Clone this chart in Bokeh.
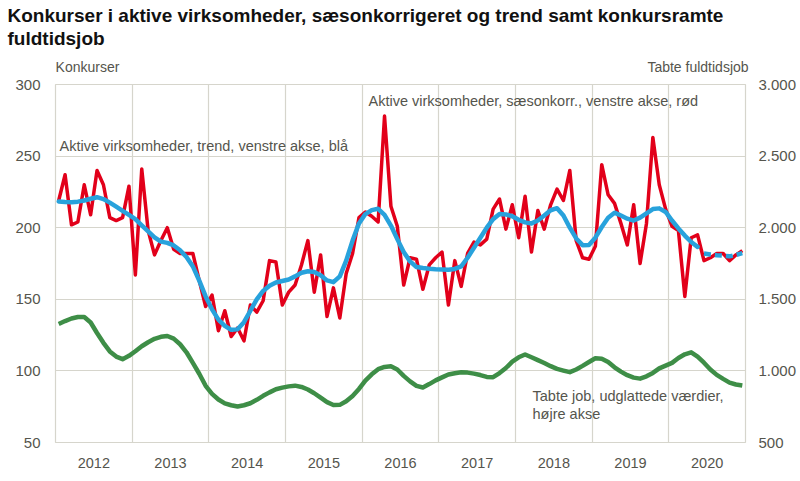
from bokeh.plotting import figure
from bokeh.models import Range1d, LinearAxis, FixedTicker, Label, Title
from bokeh.embed import file_html
from bokeh.resources import INLINE

years = [2012, 2013, 2014, 2015, 2016, 2017, 2018, 2019, 2020]

# Konkurser, sæsonkorrigeret (monthly, Jan 2012 - Dec 2020)
red = [219, 237, 202, 204, 230, 209, 240, 230, 207, 205, 207, 229,
       167, 241, 198, 181, 191, 200, 185, 182, 182, 182, 163, 145,
       153, 128, 142, 124, 130, 121, 146, 141, 149, 177, 176, 146,
       155, 160, 174, 191, 155, 181, 138, 158, 137, 168, 182, 207,
       211, 208, 204, 278, 215, 201, 160, 179, 178, 157, 174, 179,
       183, 146, 177, 159, 182, 190, 188, 192, 213, 220, 199, 216,
       193, 222, 183, 212, 199, 216, 227, 219, 240, 191, 179, 178,
       187, 244, 223, 217, 203, 188, 216, 175, 203, 263, 230, 213,
       201, 198, 152, 193, 195, 177, 179, 182, 182, 177, 181, 184]

# Konkurser, trend
trend = [218.3, 218.0, 217.8, 218.2, 219.0, 220.2, 221.3, 220.0, 217.5, 214.7, 211.8, 209.0,
         206.0, 201.7, 197.5, 193.3, 190.3, 189.4, 187.6, 184.2, 179.5, 173.0, 163.0, 152.0,
         143.0, 135.8, 131.5, 128.7, 129.0, 134.0, 142.0, 150.0, 155.8, 159.5, 161.7, 162.8,
         163.8, 166.0, 168.5, 169.6, 169.0, 166.8, 163.2, 162.0, 166.0, 177.0, 191.0, 203.0,
         209.5, 212.3, 213.2, 209.0, 201.5, 192.0, 183.0, 176.5, 172.6, 171.8, 171.3, 171.0,
         170.8, 170.6, 171.2, 173.0, 179.0, 186.0, 193.0, 200.0, 206.0, 209.5, 209.3, 208.0,
         205.5, 203.7, 203.0, 205.0, 208.5, 212.2, 213.6, 208.5, 200.0, 192.5, 187.8, 188.0,
         193.0, 200.5, 207.0, 210.5, 208.5, 206.3, 205.0, 207.0, 210.0, 213.0, 213.5, 211.0,
         205.0, 199.5, 194.5, 190.0, 186.6, 182.0, 181.3, 180.8, 180.5, 180.0, 181.0, 182.2]
n_trend_final = 101  # the last months of the trend are provisional (dashed)

# Tabte fuldtidsjob, udglattede værdier (right axis)
jobs = [1328, 1348, 1366, 1376, 1376, 1338, 1265, 1196, 1136, 1100, 1082, 1105,
        1137, 1172, 1200, 1224, 1238, 1244, 1225, 1186, 1130, 1056, 980, 896,
        840, 800, 773, 760, 751, 760, 774, 798, 826, 850, 872, 883,
        892, 897, 888, 870, 844, 813, 782, 762, 763, 788, 825, 874,
        932, 976, 1012, 1028, 1032, 1010, 965, 927, 895, 884, 908, 934,
        955, 975, 984, 990, 988, 981, 971, 958, 956, 985, 1020, 1065,
        1095, 1115, 1095, 1075, 1055, 1033, 1014, 1002, 991, 1010, 1035, 1062,
        1088, 1085, 1062, 1025, 995, 970, 953, 946, 962, 986, 1018, 1037,
        1056, 1090, 1116, 1130, 1100, 1057, 1010, 972, 944, 918, 905, 898]

left_ticks = [50, 100, 150, 200, 250, 300]
right_ticks = [500, 1000, 1500, 2000, 2500, 3000]
right_labels = ["500", "1.000", "1.500", "2.000", "2.500", "3.000"]

title_text = ("Konkurser i aktive virksomheder, sæsonkorrigeret og trend samt konkursramte\n"
              "fuldtidsjob")

x = [2012 + (i + 0.5) / 12 for i in range(len(red))]

FONT = "Liberation Sans"
TXT = "#55554d"
GRID = "#d6d5cc"
PX_PER_YEAR = 690 / 9.0
PX_PER_UNIT = 358 / 250.0

p = figure(width=800, height=476, output_backend="svg", toolbar_location=None, title=None,
           x_range=Range1d(2012, 2021), y_range=Range1d(50, 300),
           min_border_left=55, min_border_right=55, min_border_top=84, min_border_bottom=34)
p.extra_y_ranges = {"jobs": Range1d(500, 3000)}

p.outline_line_color = GRID
p.outline_line_width = 1.2
p.background_fill_color = "white"
p.border_fill_color = "white"

p.xgrid.ticker = FixedTicker(ticks=years + [2021])
p.ygrid.ticker = FixedTicker(ticks=left_ticks)
p.xgrid.grid_line_color = GRID
p.ygrid.grid_line_color = GRID
p.xgrid.grid_line_width = 1.2
p.ygrid.grid_line_width = 1.2

def style_axis(ax, size="14px"):
    ax.axis_line_color = None
    ax.major_tick_line_color = None
    ax.minor_tick_line_color = None
    ax.major_tick_out = 0
    ax.major_tick_in = 0
    ax.minor_tick_out = 0
    ax.major_label_text_font = FONT
    ax.major_label_text_font_size = size
    ax.major_label_text_color = TXT

xa = p.xaxis[0]
xa.ticker = FixedTicker(ticks=[y + 0.5 for y in years])
xa.major_label_overrides = {y + 0.5: str(y) for y in years}
style_axis(xa, "14.5px")
xa.major_label_standoff = 15

ya = p.yaxis[0]
ya.ticker = FixedTicker(ticks=left_ticks)
style_axis(ya, "15px")
ya.major_label_standoff = 15

ra = LinearAxis(y_range_name="jobs", ticker=FixedTicker(ticks=right_ticks),
                major_label_overrides={t: l for t, l in zip(right_ticks, right_labels)})
style_axis(ra, "15px")
ra.major_label_standoff = 13
p.add_layout(ra, "right")

# axis titles as a label row above the frame
k_pos = 2012 + 32 / PX_PER_YEAR
t_pos = 2012 + 642.5 / PX_PER_YEAR
ta = LinearAxis(ticker=FixedTicker(ticks=[k_pos, t_pos]),
                major_label_overrides={k_pos: "Konkurser", t_pos: "Tabte fuldtidsjob"})
style_axis(ta)
ta.major_label_standoff = 10
p.add_layout(ta, "above")

# spacing between the axis-title row and the chart title
gap = Title(text=" ", text_font=FONT, text_font_size="1px", standoff=3)
p.add_layout(gap, "above")

t1 = Title(text=title_text, align="left", offset=-48, text_font=FONT, text_font_size="19px",
           text_font_style="bold", text_color="#111111", text_line_height=1.14, standoff=0)
p.add_layout(t1, "above")

p.line(x, jobs, y_range_name="jobs", line_color="#3e8e47", line_width=4.5, line_join="round")
p.line(x, red, line_color="#e2001a", line_width=3.5, line_join="round")
p.line(x[:n_trend_final], trend[:n_trend_final], line_color="#28a2dc", line_width=4.5,
       line_join="round", line_cap="round")
p.line(x[n_trend_final:], trend[n_trend_final:], line_color="#28a2dc", line_width=4.5,
       line_dash="7 4")

def lab(px, py, text):
    # px, py: offsets in pixels from the frame's top-left corner
    p.add_layout(Label(x=2012 + px / PX_PER_YEAR, y=300 - py / PX_PER_UNIT, text=text,
                       text_font=FONT, text_font_size="14.5px", text_align="left",
                       text_baseline="middle", text_color=TXT))

lab(4, 61, "Aktive virksomheder, trend, venstre akse, blå")
lab(313, 16, "Aktive virksomheder, sæsonkorr., venstre akse, rød")
lab(477, 311, "Tabte job, udglattede værdier,")
lab(477, 329, "højre akse")

open("out.html", "w").write(file_html(p, INLINE))
